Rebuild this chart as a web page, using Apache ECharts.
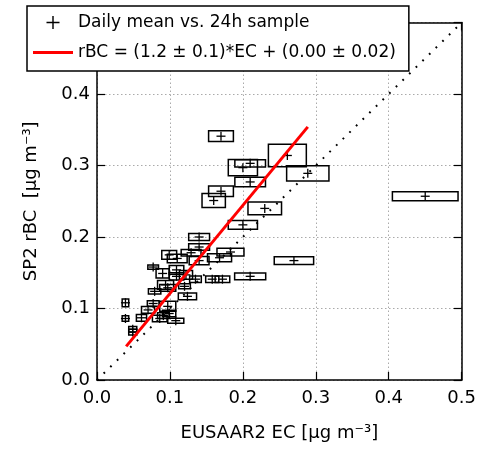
<!DOCTYPE html>
<html>
<head>
<meta charset="utf-8">
<script src="https://cdn.jsdelivr.net/npm/echarts@6/dist/echarts.min.js"></script>
<style>html,body{margin:0;padding:0;background:#fff;}#c{width:479px;height:452px;}</style>
</head>
<body>
<div id="c"></div>
<script>
// EUSAAR2 EC (x) and SP2 rBC (y) daily means, with half-widths of uncertainty boxes
const ecX   = [0.170,0.261,0.289,0.200,0.210,0.210,0.170,0.160,0.230,0.200,0.450,0.270,
               0.140,0.140,0.099,0.129,0.110,0.140,0.183,0.168,0.077,0.090,0.109,0.122,
               0.135,0.158,0.172,0.210,0.094,0.079,0.097,0.120,0.124,0.039,0.077,0.097,
               0.070,0.099,0.039,0.061,0.086,0.108,0.091,0.049,0.049,0.109];
const rbcY  = [0.341,0.314,0.289,0.297,0.303,0.277,0.264,0.251,0.240,0.217,0.257,0.167,
               0.200,0.186,0.175,0.178,0.170,0.167,0.179,0.171,0.158,0.149,0.145,0.147,
               0.141,0.141,0.141,0.145,0.133,0.124,0.129,0.131,0.117,0.108,0.107,0.103,
               0.098,0.093,0.086,0.087,0.086,0.083,0.090,0.071,0.067,0.154];
const ecErr = [0.017,0.026,0.029,0.020,0.021,0.021,0.017,0.016,0.023,0.020,0.045,0.027,
               0.0143,0.0143,0.0102,0.0136,0.0136,0.0136,0.0185,0.0165,0.0073,0.009,0.010,0.009,
               0.008,0.009,0.010,0.0213,0.011,0.0085,0.011,0.008,0.0125,0.0045,0.008,0.011,
               0.009,0.009,0.0045,0.007,0.010,0.011,0.008,0.0055,0.0055,0.010];
const rbcErr= [0.0075,0.0157,0.0107,0.0115,0.005,0.0066,0.0075,0.0098,0.0089,0.006,0.0063,0.0053,
               0.0049,0.0045,0.006,0.0046,0.0059,0.0059,0.0054,0.0055,0.003,0.0065,0.005,0.006,
               0.0045,0.0045,0.0045,0.0047,0.006,0.0037,0.0047,0.0035,0.0047,0.0054,0.004,0.007,
               0.0047,0.0047,0.004,0.0047,0.0047,0.0035,0.004,0.004,0.004,0.006];
// Fit line endpoints (rBC = 1.2*EC + 0.00)
const fitLine = [[0.040, 0.047], [0.289, 0.354]];
// 1:1 reference line
const oneToOne = [[0, 0], [0.5, 0.5]];

const boxData = ecX.map((x, i) => [x, rbcY[i], ecErr[i], rbcErr[i]]);
const FONT = 'DejaVu Sans';
const chart = echarts.init(document.getElementById('c'), null, {renderer: 'canvas'});

const axisCommon = {
  type: 'value', min: 0, max: 0.5, interval: 0.1,
  axisLine: {show: true, onZero: false, lineStyle: {color: '#000', width: 1.5}},
  axisTick: {show: true, inside: true, length: 8, lineStyle: {color: '#000', width: 1.2}},
  splitLine: {show: false}
};

chart.setOption({
  animation: false,
  backgroundColor: '#fff',
  grid: {left: 97, right: 14, top: 22.5, bottom: 72, containLabel: false},
  legend: {
    left: 27, top: 6, orient: 'vertical',
    backgroundColor: '#fff', borderColor: '#000', borderWidth: 1.5, borderRadius: 0,
    padding: [8, 13, 10, 6],
    itemWidth: 40, itemHeight: 13, itemGap: 13,
    textStyle: {fontFamily: FONT, fontSize: 17, color: '#000'},
    data: [
      {name: 'Daily mean vs. 24h sample',
       icon: 'path://M0,4.45H4.45V0H5.55V4.45H10V5.55H5.55V10H4.45V5.55H0Z',
       itemStyle: {color: '#000'}},
      {name: 'rBC = (1.2 ± 0.1)*EC + (0.00 ± 0.02)',
       icon: 'path://M0,0H40V3H0Z', itemStyle: {color: '#ff0000'}}
    ]
  },
  xAxis: [
    Object.assign({}, axisCommon, {
      position: 'bottom',
      name: 'EUSAAR2 EC [µg m⁻³]', nameLocation: 'middle', nameGap: 44,
      nameTextStyle: {fontFamily: FONT, fontSize: 18, color: '#000'},
      axisLabel: {show: true, margin: 9, fontFamily: FONT, fontSize: 18, color: '#000',
                  formatter: v => v.toFixed(1)},
      splitLine: {show: true, lineStyle: {color: '#aaa', type: [1.5, 2.5], width: 1}}
    }),
    Object.assign({}, axisCommon, {position: 'top', axisLabel: {show: false}})
  ],
  yAxis: [
    Object.assign({}, axisCommon, {
      position: 'left',
      name: 'SP2 rBC  [µg m⁻³]', nameLocation: 'middle', nameGap: 57,
      nameTextStyle: {fontFamily: FONT, fontSize: 18, color: '#000'},
      axisLabel: {show: true, margin: 7, fontFamily: FONT, fontSize: 18, color: '#000',
                  formatter: v => v.toFixed(1)},
      splitLine: {show: true, lineStyle: {color: '#aaa', type: [1.5, 2.5], width: 1}}
    }),
    Object.assign({}, axisCommon, {position: 'right', axisLabel: {show: false}})
  ],
  series: [
    {
      name: '1:1', type: 'line', data: oneToOne, symbol: 'none', z: 2,
      lineStyle: {color: '#000', width: 2, type: [1.8, 7.5]}, silent: true
    },
    {
      name: 'Daily mean vs. 24h sample', type: 'custom', z: 3,
      itemStyle: {color: '#000'},
      encode: {x: 0, y: 1},
      data: boxData,
      renderItem: function (params, api) {
        const x = api.value(0), y = api.value(1), ex = api.value(2), ey = api.value(3);
        const p0 = api.coord([x - ex, y + ey]);
        const p1 = api.coord([x + ex, y - ey]);
        const c = api.coord([x, y]);
        return {
          type: 'group',
          children: [
            {type: 'rect', shape: {x: p0[0], y: p0[1], width: p1[0] - p0[0], height: p1[1] - p0[1]},
             style: {fill: null, stroke: '#000', lineWidth: 1.5}},
            {type: 'line', shape: {x1: c[0] - 4.5, y1: c[1], x2: c[0] + 4.5, y2: c[1]},
             style: {stroke: '#000', lineWidth: 1.3}},
            {type: 'line', shape: {x1: c[0], y1: c[1] - 4.5, x2: c[0], y2: c[1] + 4.5},
             style: {stroke: '#000', lineWidth: 1.3}}
          ]
        };
      }
    },
    {
      name: 'rBC = (1.2 ± 0.1)*EC + (0.00 ± 0.02)', type: 'line', data: fitLine,
      symbol: 'none', z: 4, itemStyle: {color: '#ff0000'},
      lineStyle: {color: '#ff0000', width: 3}
    }
  ]
});
</script>
</body>
</html>
